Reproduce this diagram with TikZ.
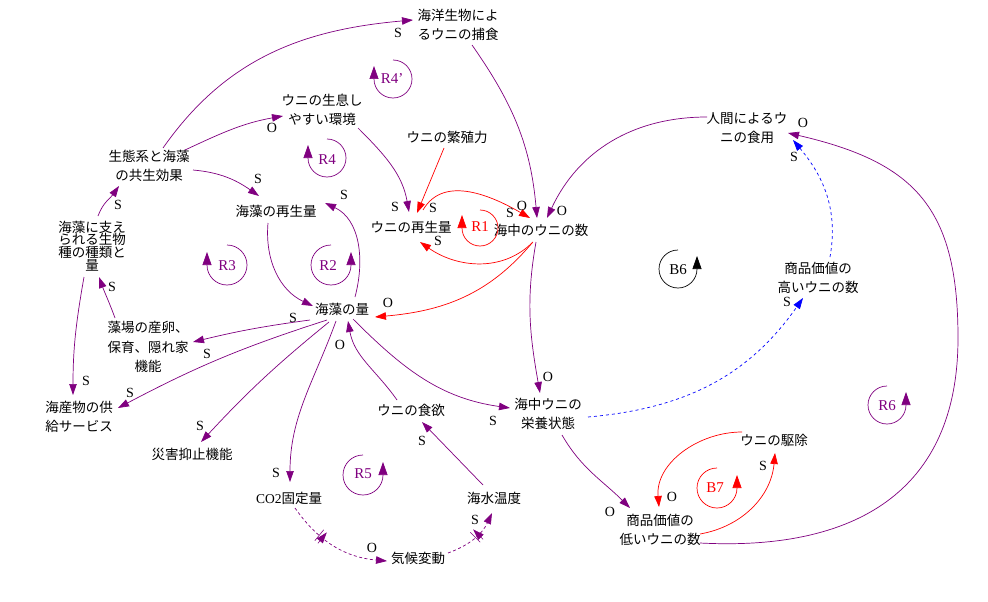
\documentclass[tikz,border=0pt]{standalone}
\usepackage{fontspec}
\setmainfont{Liberation Serif}
\newfontfamily\jpfont{Noto Sans CJK JP}
\usetikzlibrary{arrows.meta,calc,decorations.markings}
\definecolor{pur}{RGB}{128,0,128}
\definecolor{rd}{RGB}{255,0,0}
\definecolor{bl}{RGB}{0,0,255}
\tikzset{
  var/.style={font=\jpfont\fontsize{13.5}{19.5}\selectfont,align=center,inner sep=0pt},
  pol/.style={font=\fontsize{14}{14}\selectfont,inner sep=0pt},
  lbl/.style={font=\fontsize{15}{15}\selectfont,inner sep=0pt},
  arr/.style={-{Triangle[length=11pt,width=7.5pt]}},
  lk/.style={draw=pur,line width=0.7pt,arr},
  lkr/.style={draw=rd,line width=0.7pt,arr},
  lkb/.style={draw=bl,line width=0.7pt,dash pattern=on 3pt off 3pt,arr},
  lkd/.style={draw=pur,line width=0.7pt,dash pattern=on 3pt off 2.5pt,arr},
  loopar/.style={line width=0.7pt,-{Triangle[length=13pt,width=9pt]}},
  delaymark/.style={postaction={decorate,decoration={markings,mark=at position #1 with {\draw[solid,line width=0.6pt] (-2pt,-7pt)--(-2pt,7pt) (2pt,-7pt)--(2pt,7pt);}}}},
}
\begin{document}
\begin{tikzpicture}[x=1pt,y=-1pt]
\useasboundingbox[fill=white] (0,0) rectangle (988,602);
% variables
\node[var] (nPred) at (458,25) {海洋生物によ\\るウニの捕食};
\node[var] (nHab) at (322,110) {ウニの生息し\\やすい環境};
\node[var] (nBreed) at (447,137) {ウニの繁殖力};
\node[var] (nSym) at (149,166) {生態系と海藻\\の共生効果};
\node[var] (nHum) at (747,128) {人間によるウ\\ニの食用};
\node[var] (nRegen) at (276,211) {海藻の再生量};
\node[var] (nUregen) at (411,227) {ウニの再生量};
\node[var] (nUnum) at (541,230) {海中のウニの数};
\node[var,font=\jpfont\fontsize{13.5}{12.7}\selectfont] (nSpec) at (92,246) {海藻に支え\\られる生物\\種の種類と\\量};
\node[var] (nHigh) at (818,278) {商品価値の\\高いウニの数};
\node[var] (nAmt) at (342,309) {海藻の量};
\node[var] (nNurs) at (148,347) {藻場の産卵、\\保育、隠れ家\\機能};
\node[var] (nSea) at (79,417) {海産物の供\\給サービス};
\node[var] (nApp) at (411,410) {ウニの食欲};
\node[var] (nNut) at (548,414) {海中ウニの\\栄養状態};
\node[var] (nDis) at (192,454) {災害抑止機能};
\node[var] (nCull) at (774,440) {ウニの駆除};
\node[var] (nCO2) at (289,498) {{\rmfamily CO2}固定量};
\node[var] (nTemp) at (494,498) {海水温度};
\node[var] (nLow) at (660,530) {商品価値の\\低いウニの数};
\node[var] (nClim) at (418,558) {気候変動};
\coordinate (cR6) at (958,338);
% links
\draw[lk] ($(nSym)+(14,-18)$) to[out=55,in=185] ($(nPred)+(-45,-5)$);
\draw[lk] ($(nSym)+(36,-16)$) to[out=25,in=190] ($(nHab)+(-39,6)$);
\draw[lk] ($(nSym)+(44,4)$) to[out=-5,in=145] ($(nRegen)+(-17,-15)$);
\draw[lk] ($(nSpec)+(6,-30)$) to[out=70,in=235] ($(nSym)+(-30,20)$);
\draw[lk] ($(nNurs)+(-33,-29)$) to[out=110,in=-70] ($(nSpec)+(7,31)$);
\draw[lk] ($(nSpec)+(-8,31)$) to[out=-100,in=90] ($(nSea)+(-6,-22)$);
\draw[lk] ($(nRegen)+(-8,12)$) to[out=-95,in=155] ($(nAmt)+(-29,-3)$);
\draw[lk] ($(nAmt)+(13,-12)$) to[out=75,in=-25] ($(nRegen)+(49,-8)$);
\draw[lk] ($(nAmt)+(-32,11)$) to[bend right=3] ($(nNurs)+(45,-5)$);
\draw[lk] ($(nAmt)+(-15,11)$) to[bend right=5] ($(nSea)+(39,-9)$);
\draw[lk] ($(nAmt)+(-13,13)$) to[bend right=4] ($(nDis)+(9,-12)$);
\draw[lk] ($(nAmt)+(-6,12)$) to[out=-110,in=90] ($(nCO2)+(1,-16)$);
\draw[lk] ($(nApp)+(-14,-10)$) to[out=125,in=-80] ($(nAmt)+(6,12)$);
\draw[lk] ($(nAmt)+(11,10)$) to[out=-45,in=172] ($(nNut)+(-38,-6)$);
\draw[lk] ($(nTemp)+(-11,-13)$) -- ($(nApp)+(11,12)$);
\draw[lkd,delaymark=0.35] ($(nCO2)+(6,10)$) to[out=-55,in=175] ($(nClim)+(-31,3)$);
\draw[lkd,delaymark=0.55] ($(nClim)+(30,-5)$) to[out=20,in=-115] ($(nTemp)+(-2,15)$);
\draw[lk] ($(nHab)+(36,18)$) to[out=-45,in=100] ($(nUregen)+(-2,-15)$);
\draw[lkr] ($(nBreed)+(-3,11)$) -- ($(nUregen)+(6,-14)$);
\draw[lkr] ($(nUregen)+(12,-17)$) to[out=60,in=150] ($(nUnum)+(-11,-12)$);
\draw[lkr] ($(nUnum)+(-8,12)$) to[out=-135,in=-35] ($(nUregen)+(9,15)$);
\draw[lkr] ($(nUnum)+(-9,13)$) to[out=-130,in=5] ($(nAmt)+(33,8)$);
\draw[lk] ($(nPred)+(14,20)$) to[out=-55,in=95] ($(nUnum)+(-4,-12)$);
\draw[lk] ($(nHum)+(-40,-11)$) to[out=180,in=65] ($(nUnum)+(6,-12)$);
\draw[lk] ($(nUnum)+(-5,12)$) to[out=-100,in=100] ($(nNut)+(-8,-21)$);
\draw[lkb] ($(nNut)+(40,3)$) to[out=5,in=-125] ($(nHigh)+(-15,20)$);
\draw[lkb] ($(nHigh)+(12,-21)$) to[out=80,in=-50] ($(nHum)+(46,12)$);
\draw[lk] ($(nNut)+(14,21)$) to[out=-60,in=135] ($(nLow)+(-30,-22)$);
\draw[lkr] ($(nCull)+(-32,-8)$) to[out=180,in=95] ($(nLow)+(-1,-23)$);
\draw[lkr] ($(nLow)+(40,4)$) to[out=10,in=-95] ($(nCull)+(1,13)$);
\draw[lk] ($(nLow)+(40,13)$) to[out=-3,in=-90,looseness=1.2] (cR6) to[out=90,in=-13,looseness=1.25] ($(nHum)+(41,5)$);
% polarity labels
\node[pol] (p1) at (398,33) {S};
\node[pol] (p2) at (272,128) {O};
\node[pol] (p3) at (258,179) {S};
\node[pol] (p4) at (118,205) {S};
\node[pol] (p5) at (112,287) {S};
\node[pol] (p6) at (86,381) {S};
\node[pol] (p7) at (293,318) {S};
\node[pol] (p8) at (344,195) {S};
\node[pol] (p9) at (207,354) {S};
\node[pol] (p10) at (130,393) {S};
\node[pol] (p11) at (200,426) {S};
\node[pol] (p12) at (276,473) {S};
\node[pol] (p13) at (340,345) {O};
\node[pol] (p14) at (493,421) {S};
\node[pol] (p15) at (422,441) {S};
\node[pol] (p16) at (372,548) {O};
\node[pol] (p17) at (475,520) {S};
\node[pol] (p18) at (395,207) {S};
\node[pol] (p19) at (433,208) {S};
\node[pol] (p20) at (510,213) {S};
\node[pol] (p21) at (438,241) {S};
\node[pol] (p22) at (388,303) {O};
\node[pol] (p23) at (522,206) {O};
\node[pol] (p24) at (562,211) {O};
\node[pol] (p25) at (548,377) {O};
\node[pol] (p26) at (787,302) {S};
\node[pol] (p27) at (794,157) {S};
\node[pol] (p28) at (610,512) {O};
\node[pol] (p29) at (672,497) {O};
\node[pol] (p30) at (763,466) {S};
\node[pol] (p31) at (803,123) {O};
% loop labels
\node[lbl,pur] (lR4p) at (392,79) {R4’};
\node[lbl,pur] (lR4) at (327,160) {R4};
\node[lbl,rd] (lR1) at (480,227) {R1};
\node[lbl,pur] (lR3) at (227,266) {R3};
\node[lbl,pur] (lR2) at (328,266) {R2};
\node[lbl,pur] (lR5) at (363,474) {R5};
\node[lbl] (lB6) at (678,270) {B6};
\node[lbl,pur] (lR6) at (887,406) {R6};
\node[lbl,rd] (lB7) at (715,488) {B7};
% loop arrows (clockwise, arrow at left)
\draw[pur,loopar] ($(lR4p)+(1,-19)$) arc[start angle=90,end angle=-180,radius=19pt] -- ++(0,-13);
\draw[pur,loopar] ($(lR4)+(0,-21)$) arc[start angle=90,end angle=-180,radius=19pt] -- ++(0,-13);
\draw[rd,loopar] ($(lR1)+(0,-17)$) arc[start angle=90,end angle=-180,radius=18pt] -- ++(0,-13);
\draw[pur,loopar] ($(lR3)+(0,-21)$) arc[start angle=90,end angle=-180,radius=20pt] -- ++(0,-13);
% loop arrows (counter-clockwise, arrow at right)
\draw[pur,loopar] ($(lR2)+(3,-21)$) arc[start angle=90,end angle=360,radius=20pt] -- ++(0,-13);
\draw[pur,loopar] ($(lR5)+(0,-19)$) arc[start angle=90,end angle=360,radius=20pt] -- ++(0,-13);
\draw[black,loopar] ($(lB6)+(0,-20)$) arc[start angle=90,end angle=360,radius=19pt] -- ++(0,-13);
\draw[pur,loopar] ($(lR6)+(0,-20)$) arc[start angle=90,end angle=360,radius=19pt] -- ++(0,-13);
\draw[rd,loopar] ($(lB7)+(2,-20)$) arc[start angle=90,end angle=360,radius=20pt] -- ++(0,-13);
\end{tikzpicture}
\end{document}
